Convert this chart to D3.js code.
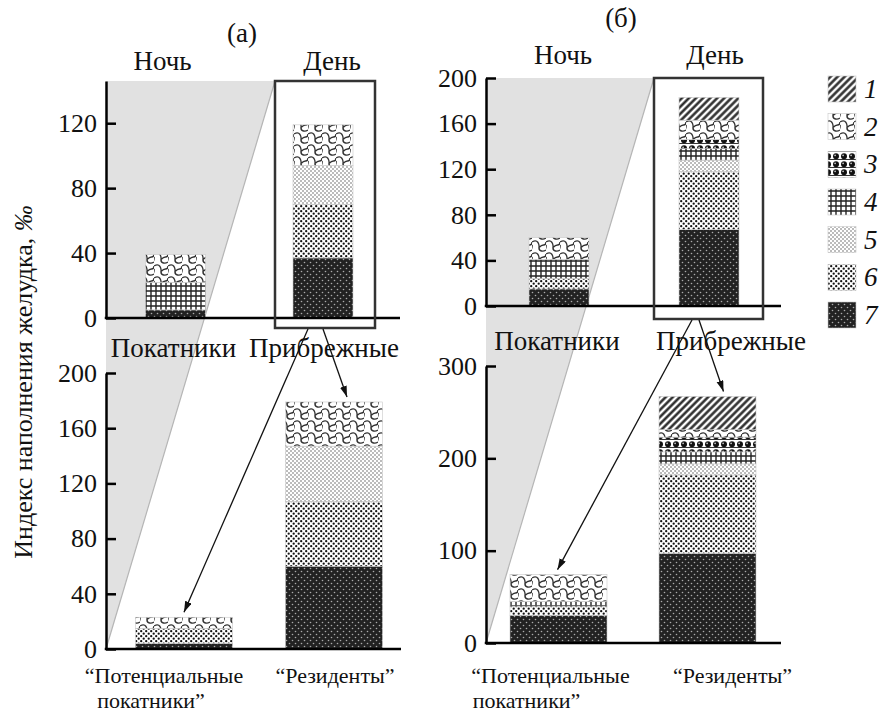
<!DOCTYPE html>
<html><head><meta charset="utf-8">
<script src="https://cdn.jsdelivr.net/npm/d3@7"></script>
<style>
body{margin:0;background:#fff}
text{font-family:"Liberation Serif","Times New Roman",serif;fill:#111}
</style>
</head><body>
<svg id="c" width="882" height="713"></svg>
<script>
// ---------- DATA ----------
const components = ["1","2","3","4","5","6","7"];
const stackOrder = ["7","6","5","4","3","2","1"];
const groupsTop = ["Покатники","Прибрежные"];
const groupsBottom = ["Потенциальные","Резиденты"];
// values per component 1..7 (index of stomach fullness, ‰)
const aPokatniki     = [0,17,0,17,0,0,5];
const aPribrezhnye   = [0,25,0,0,24,33,37];
const aPotentsialnye = [0,8,0,0,0,11,4];
const aRezidenty     = [0,32,0,0,40,47,60];
const bPokatniki     = [0,19,0,17,0,9,15];
const bPribrezhnye   = [20,17,8,10,10,51,67];
const bPotentsialnye = [0,29,0,5,0,10,30];
const bRezidenty     = [36,8,16,13,12,85,97];
const ticksATop    = [0,40,80,120];
const ticksABottom = [0,40,80,120,160,200];
const ticksBTop    = [0,40,80,120,160,200];
const ticksBBottom = [0,100,200,300];
const yTitle = "Индекс наполнения желудка, ";

// ---------- SETUP ----------
const svg = d3.select("#c");
const defs = svg.append("defs");

function pat(id, w, h, build, transform){
  const p = defs.append("pattern").attr("id", id).attr("patternUnits","userSpaceOnUse")
    .attr("width", w).attr("height", h);
  if (transform) p.attr("patternTransform", transform);
  build(p);
}
pat("p1",5,5,p=>{
  p.append("rect").attr("width",5).attr("height",5).attr("fill","#fff");
  p.append("line").attr("x1",1.5).attr("x2",1.5).attr("y1",-1).attr("y2",6).attr("stroke","#222").attr("stroke-width",2.4);
},"rotate(45)");
pat("p2",14,12,p=>{
  p.append("rect").attr("width",14).attr("height",12).attr("fill","#fff");
  p.append("path").attr("d","M0,2 Q4,-0.5 6,2.5 Q7.5,5 7,7.5 Q6.8,10.5 9.5,11 Q12,11.5 14,10 M7,7.5 Q9.5,5 11.5,5 Q14,5 14,2 M-1,10 Q0.5,7 0,5")
    .attr("fill","none").attr("stroke","#333").attr("stroke-width",1.4);
});
pat("p3",8,8,p=>{
  p.append("rect").attr("width",8).attr("height",8).attr("fill","#fff");
  p.append("line").attr("x1",0).attr("x2",8).attr("y1",7.5).attr("y2",7.5).attr("stroke","#333").attr("stroke-width",1);
  p.append("circle").attr("cx",4).attr("cy",4.3).attr("r",3).attr("fill","#111");
  p.append("circle").attr("cx",3.1).attr("cy",3.4).attr("r",0.8).attr("fill","#ddd");
});
pat("p4",5,5,p=>{
  p.append("rect").attr("width",5).attr("height",5).attr("fill","#fff");
  p.append("path").attr("d","M0,1 H5 M1,0 V5").attr("stroke","#222").attr("stroke-width",1.4);
});
pat("p5",4,4,p=>{
  p.append("rect").attr("width",4).attr("height",4).attr("fill","#fff");
  p.append("circle").attr("cx",1).attr("cy",1).attr("r",0.8).attr("fill","#666");
  p.append("circle").attr("cx",3).attr("cy",3).attr("r",0.8).attr("fill","#666");
});
pat("p6",5,5,p=>{
  p.append("rect").attr("width",5).attr("height",5).attr("fill","#fff");
  p.append("circle").attr("cx",1.2).attr("cy",1.2).attr("r",1.15).attr("fill","#111");
  p.append("circle").attr("cx",3.7).attr("cy",3.7).attr("r",1.15).attr("fill","#111");
});
pat("p7",6,6,p=>{
  p.append("rect").attr("width",6).attr("height",6).attr("fill","#222");
  p.append("circle").attr("cx",1.5).attr("cy",1.5).attr("r",0.8).attr("fill","#aaa");
  p.append("circle").attr("cx",4.5).attr("cy",4.5).attr("r",0.8).attr("fill","#aaa");
});
defs.append("marker").attr("id","arr").attr("markerUnits","userSpaceOnUse")
  .attr("markerWidth",12).attr("markerHeight",8).attr("refX",11).attr("refY",3.5).attr("orient","auto")
  .append("path").attr("d","M0,0 L11,3.5 L0,7 Z").attr("fill","#111");

const panels = {
  aTop:    {groups:groupsTop, vals:[aPokatniki,aPribrezhnye], pos:[175.5,323], bw:60, dom:[0,146], rng:[318,81], ax:106, xEnd:400, ticks:ticksATop},
  aBottom: {groups:groupsBottom, vals:[aPotentsialnye,aRezidenty], pos:[184,334], bw:97, dom:[0,200], rng:[649,373], ax:106, xEnd:401, ticks:ticksABottom},
  bTop:    {groups:groupsTop, vals:[bPokatniki,bPribrezhnye], pos:[559,709], bw:60, dom:[0,200], rng:[306,78], ax:486, xEnd:781, ticks:ticksBTop},
  bBottom: {groups:groupsBottom, vals:[bPotentsialnye,bRezidenty], pos:[558.5,707.5], bw:97, dom:[0,300], rng:[643,366], ax:486, xEnd:781, ticks:ticksBBottom}
};
for (const k in panels){
  const P = panels[k];
  P.x = d3.scalePoint().domain(P.groups).range(P.pos);
  P.y = d3.scaleLinear().domain(P.dom).range(P.rng);
  P.rows = P.groups.map((g,i)=>{const r={group:g}; components.forEach((c,j)=>r[c]=P.vals[i][j]); return r;});
  P.series = d3.stack().keys(stackOrder)(P.rows);
  P.total = P.rows.map(r=>d3.sum(components,c=>r[c]));
}

// ---------- GREY WEDGES (night → day transition) ----------
const layers = svg.append("g");
function wedge(top, bottom, boxLeft){
  const yT = top.y(top.dom[1]), yB = bottom.y(0);
  layers.append("path").attr("d",`M${top.ax},${yT} L${boxLeft},${yT} L${top.ax},${yB} Z`).attr("fill","#e1e1e1");
  layers.append("line").attr("x1",boxLeft).attr("y1",yT).attr("x2",top.ax).attr("y2",yB).attr("stroke","#b5b5b5").attr("stroke-width",1.2);
}
const boxA = {x0: panels.aTop.x("Прибрежные")-48, x1: panels.aTop.x("Прибрежные")+52, extra:10};
const boxB = {x0: panels.bTop.x("Прибрежные")-55, x1: panels.bTop.x("Прибрежные")+54, extra:13};
wedge(panels.aTop, panels.aBottom, boxA.x0);
wedge(panels.bTop, panels.bBottom, boxB.x0);

// ---------- BARS + AXES ----------
function drawPanel(P){
  const g = svg.append("g");
  P.series.forEach(s=>{
    g.selectAll(null).data(s.filter(d=>d[1]>d[0])).join("rect")
      .attr("x",d=>P.x(d.data.group)-P.bw/2).attr("width",P.bw)
      .attr("y",d=>P.y(d[1])).attr("height",d=>P.y(d[0])-P.y(d[1]))
      .attr("fill",`url(#p${s.key})`).attr("stroke","#c8c8c8").attr("stroke-width",0.6);
  });
  const axis = d3.axisLeft(P.y).tickValues(P.ticks).tickSizeInner(-10).tickSizeOuter(0).tickPadding(9);
  const ag = g.append("g").attr("transform",`translate(${P.ax},0)`).call(axis);
  ag.select(".domain").attr("stroke","#000").attr("stroke-width",2.5);
  ag.selectAll(".tick line").attr("stroke","#000").attr("stroke-width",2.5);
  ag.selectAll(".tick text").attr("font-size",26).attr("font-family","Liberation Serif").attr("fill","#111");
  g.append("line").attr("x1",P.ax-1.25).attr("x2",P.xEnd).attr("y1",P.y(0)).attr("y2",P.y(0))
    .attr("stroke","#000").attr("stroke-width",2.5);
}
Object.values(panels).forEach(drawPanel);

// ---------- BOXES + ARROWS ----------
function boxArrows(top, bottom, box, starts, tipDx){
  const yT = top.y(top.dom[1]), yB = top.y(0)+box.extra;
  svg.append("rect").attr("x",box.x0).attr("y",yT).attr("width",box.x1-box.x0).attr("height",yB-yT)
    .attr("fill","none").attr("stroke","#333").attr("stroke-width",2.5);
  bottom.groups.forEach((gname,i)=>{
    const tx = bottom.x(gname)+tipDx[i], ty = bottom.y(bottom.total[i])-5;
    svg.append("line").attr("x1",top.x("Прибрежные")+starts[i]).attr("y1",yB+1)
      .attr("x2",tx).attr("y2",ty).attr("stroke","#111").attr("stroke-width",1.3).attr("marker-end","url(#arr)");
  });
}
boxArrows(panels.aTop, panels.aBottom, boxA, [-15,0], [0,13]);
boxArrows(panels.bTop, panels.bBottom, boxB, [-17,-10], [-1,16]);

// ---------- TEXT ----------
function txt(x,y,s,opt={}){
  const t = svg.append("text").attr("x",x).attr("y",y).attr("font-size",opt.size||27)
    .attr("text-anchor",opt.anchor||"middle").text(s);
  if (opt.italic) t.attr("font-style","italic");
  return t;
}
function txt2(x1,x2,y,s1,s2,size){
  const t = svg.append("text").attr("font-size",size).attr("text-anchor","middle");
  t.append("tspan").attr("x",x1).attr("y",y).text(s1);
  t.append("tspan").attr("x",x2).attr("y",y+24.5).text(s2);
}
txt(242,42,"(а)");
txt(621,27,"(б)");
txt(panels.aTop.x("Покатники")-13,70,"Ночь");
txt(panels.aTop.x("Прибрежные")+9,70,"День");
txt(panels.bTop.x("Покатники")+4,64,"Ночь");
txt(panels.bTop.x("Прибрежные")+6,64,"День");
txt(panels.aTop.x("Покатники")-2,357,"Покатники");
txt(panels.aTop.x("Прибрежные")+1,357,"Прибрежные");
txt(panels.bTop.x("Покатники")-2,350,"Покатники");
txt(panels.bTop.x("Прибрежные")+22,350,"Прибрежные");
txt2(panels.aBottom.x("Потенциальные")-20, panels.aBottom.x("Потенциальные")-33, 683, "“Потенциальные", "покатники”", 22);
txt(panels.aBottom.x("Резиденты")+1,683,"“Резиденты”",{size:22});
txt2(panels.bBottom.x("Потенциальные")-8, panels.bBottom.x("Потенциальные")-32, 683, "“Потенциальные", "покатники”", 22);
txt(panels.bBottom.x("Резиденты")+25,683,"“Резиденты”",{size:22});

// y title
const yt = svg.append("text").attr("transform","translate(32,382) rotate(-90)")
  .attr("text-anchor","middle").attr("font-size",26);
yt.append("tspan").text(yTitle);
yt.append("tspan").attr("font-style","italic").text("‰");

// ---------- LEGEND ----------
const leg = svg.append("g");
const ly = d3.scalePoint().domain(components).range([76,302]);
components.forEach(c=>{
  leg.append("rect").attr("x",828).attr("y",ly(c)).attr("width",28).attr("height",26)
    .attr("fill",`url(#p${c})`).attr("stroke","#c8c8c8").attr("stroke-width",0.6);
  txt(864,ly(c)+22,c,{anchor:"start",italic:true});
});
</script>
</body></html>
